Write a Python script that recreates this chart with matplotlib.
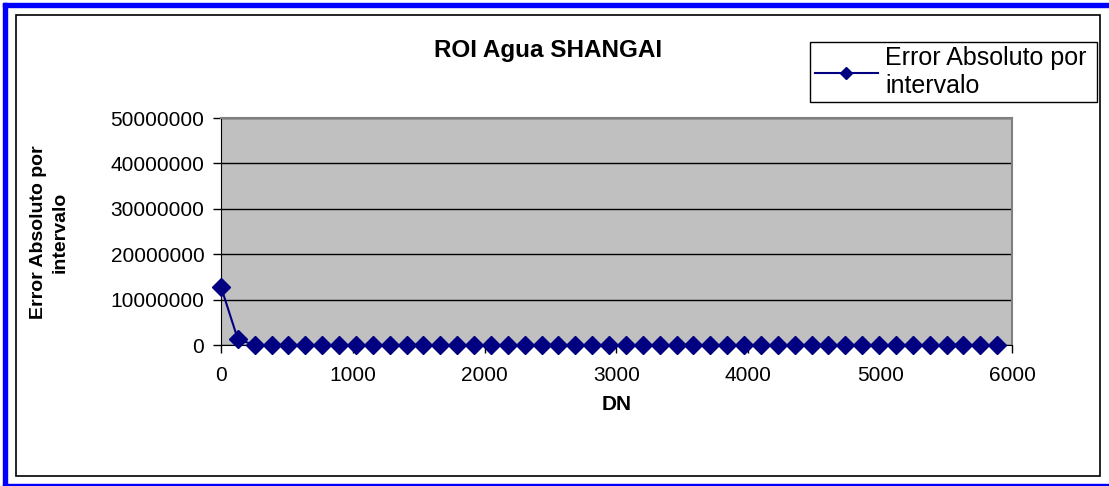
import matplotlib
matplotlib.use("Agg")
import matplotlib.pyplot as plt
from matplotlib.patches import Rectangle

plt.rcParams["font.family"] = ["Liberation Sans", "DejaVu Sans"]

# DN interval starts and absolute error per interval
dn = [0, 128, 256, 384, 512, 640, 768, 896, 1024, 1152, 1280, 1408, 1536,
      1664, 1792, 1920, 2048, 2176, 2304, 2432, 2560, 2688, 2816, 2944,
      3072, 3200, 3328, 3456, 3584, 3712, 3840, 3968, 4096, 4224, 4352,
      4480, 4608, 4736, 4864, 4992, 5120, 5248, 5376, 5504, 5632, 5760,
      5888]
error_abs = [12800000, 1250000] + [0] * 45

yticks = [0, 10000000, 20000000, 30000000, 40000000, 50000000]
xticks = [0, 1000, 2000, 3000, 4000, 5000, 6000]

W, H = 1109, 486
fig = plt.figure(figsize=(W / 100, H / 100), dpi=100)
fig.patch.set_facecolor("white")


def px_rect(x0, y0, x1, y1, **kw):
    """Rectangle in figure pixel coordinates (origin top left)."""
    return Rectangle((x0 / W, 1 - y1 / H), (x1 - x0) / W, (y1 - y0) / H,
                     transform=fig.transFigure, **kw)


# outer blue frame and inner chart border
fig.patches.append(px_rect(3, 3, 1109, 7, color="#0000ff"))
fig.patches.append(px_rect(3, 3, 7, 486, color="#0000ff"))
fig.patches.append(px_rect(3, 484, 1109, 486, color="#0000ff"))
fig.patches.append(px_rect(16, 15, 1100, 476, fill=False,
                           edgecolor="black", linewidth=1.2))
# legend box
fig.patches.append(px_rect(810, 42, 1097, 102, fill=False,
                           edgecolor="black", linewidth=1))

ax = fig.add_axes([221 / W, 1 - 345 / H, 791 / W, 227 / H])
ax.set_facecolor("#c0c0c0")
ax.plot(dn, error_abs, color="#000080", marker="D", markersize=9,
        linewidth=1.5, label="Error Absoluto por\nintervalo", clip_on=False,
        zorder=5)

ax.set_xlim(0, 6000)
ax.set_ylim(0, 50000000)
ax.set_xticks(xticks)
ax.set_yticks(yticks)
ax.set_xticklabels([str(t) for t in xticks], fontsize=15)
ax.set_yticklabels([str(t) for t in yticks], fontsize=15)
ax.tick_params(direction="out", length=6, width=1, color="black", pad=6)
ax.tick_params(axis="x", pad=9)
ax.yaxis.grid(True, color="black", linewidth=1)
ax.set_axisbelow(True)

for side in ["top", "right"]:
    ax.spines[side].set_color("#808080")
    ax.spines[side].set_linewidth(1.5)
ax.spines["left"].set_color("black")
ax.spines["bottom"].set_color("black")

ax.set_xlabel("DN", fontsize=15, fontweight="bold", labelpad=7)
fig.text(49 / W, 1 - 232 / H, "Error Absoluto por\nintervalo", rotation=90,
         ha="center", va="center", fontsize=14, fontweight="bold",
         multialignment="center", linespacing=1.35)
fig.text(548 / W, 1 - 51 / H, "ROI Agua SHANGAI", ha="center", va="center",
         fontsize=17.5, fontweight="bold")

leg = fig.legend(loc="center left", bbox_to_anchor=(815 / W, 1 - 72 / H),
                 fontsize=18, frameon=False, handlelength=2.5,
                 borderpad=0, handletextpad=0.3, borderaxespad=0,
                 markerscale=0.7)

fig.savefig("out.png", dpi=100)
